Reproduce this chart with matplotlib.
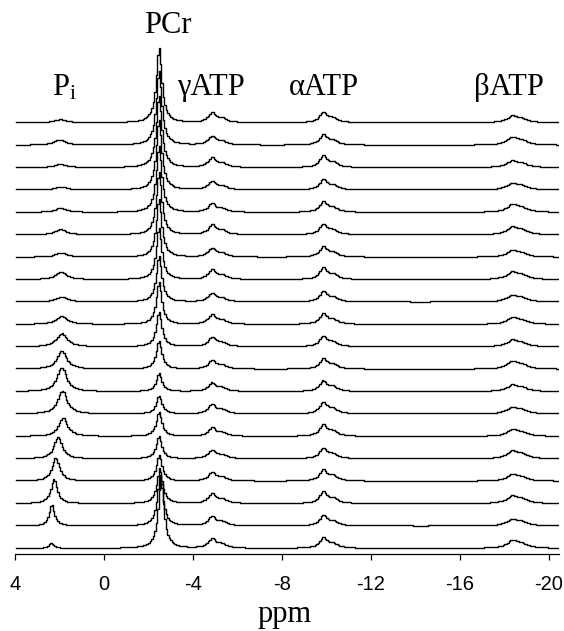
from __future__ import annotations

import matplotlib
import matplotlib.pyplot as plt
import numpy as np

matplotlib.use("Agg")

plt.rcParams["mathtext.fontset"] = "custom"
plt.rcParams["mathtext.rm"] = "Liberation Serif"
plt.rcParams["mathtext.it"] = "Liberation Serif"

# peak table, top spectrum first (a.u.)
pcr_shift = [-2.47, -2.47, -2.47, -2.47, -2.47, -2.47, -2.47, -2.47, -2.47, -2.47,
             -2.47, -2.47, -2.47, -2.47, -2.47, -2.47, -2.48, -2.50, -2.52, -2.56]
pcr_height = [75, 74, 72, 70, 67, 63, 58, 52, 46, 42, 35, 28, 18, 18, 24, 22, 26, 35, 52, 72]
pi_shift = [1.98, 2.0, 1.95, 1.95, 1.95, 1.95, 1.93, 1.93, 1.9, 1.9,
            1.9, 1.9, 1.9, 1.88, 1.84, 2.07, 2.17, 2.25, 2.35, 2.38]
pi_height = [3, 5, 3, 3, 4, 5, 4, 7, 5, 8, 13, 18, 24, 23, 18, 21, 23, 24, 21, 5]
pi_width = [0.3, 0.3, 0.3, 0.3, 0.3, 0.3, 0.3, 0.3, 0.3, 0.3,
            0.28, 0.26, 0.25, 0.25, 0.24, 0.22, 0.2, 0.17, 0.14, 0.12]
gamma_height = [9, 8, 9, 8, 8, 9, 8, 9, 8, 9, 9, 8, 8, 9, 8, 8, 8, 9, 9, 9]
alpha_height = [10, 10, 11, 10, 10, 10, 10, 11, 10, 10, 10, 10, 10, 11, 11, 10, 11, 11, 10, 10]
beta_height = [6, 7, 6, 6, 7, 7, 6, 7, 6, 6, 6, 7, 6, 6, 6, 7, 6, 7, 6, 7]

GAMMA_SHIFT = -4.85
ALPHA_SHIFT = -9.85
BETA_SHIFT = -18.35

xticks = [4, 0, -4, -8, -12, -16, -20]


def lorentz(ppm, centre, height, hw):
    return height / (1.0 + ((ppm - centre) / hw) ** 2)


ppm = np.arange(3.95, -20.46, -0.065)

fig = plt.figure(figsize=(5.64, 6.31), dpi=100)
ax = fig.add_axes([15 / 564, 1 - 554 / 631, 544 / 564, 554 / 631])

n = len(pcr_height)
spacing = 22.4
for i in range(n):
    base = 6 + (n - 1 - i) * spacing
    y = (
        lorentz(ppm, pcr_shift[i], pcr_height[i], 0.15)
        + lorentz(ppm, pi_shift[i], pi_height[i], pi_width[i])
        + lorentz(ppm, GAMMA_SHIFT, gamma_height[i], 0.2)
        + lorentz(ppm, GAMMA_SHIFT - 0.45, gamma_height[i] * 0.4, 0.25)
        + lorentz(ppm, ALPHA_SHIFT, alpha_height[i], 0.2)
        + lorentz(ppm, ALPHA_SHIFT - 0.45, alpha_height[i] * 0.4, 0.25)
        + lorentz(ppm, BETA_SHIFT, beta_height[i], 0.3)
        + lorentz(ppm, BETA_SHIFT - 0.45, beta_height[i] * 0.5, 0.3)
    )
    ax.plot(ppm, base + y, color="black", linewidth=1.0, drawstyle="steps-mid")

ax.set_xlim(4, -20.45)
ax.set_ylim(0, 554)
ax.set_yticks([])
for side in ("left", "right", "top"):
    ax.spines[side].set_visible(False)
ax.spines["bottom"].set_linewidth(0.9)
ax.spines["bottom"].set_bounds(4, -20.45)
ax.set_xticks(xticks)
ax.set_xticklabels([str(t) for t in xticks], fontfamily="Liberation Sans", fontsize=14.5)
ax.tick_params(axis="x", direction="out", length=4, width=0.9, pad=11)
ax.patch.set_alpha(0)

serif = dict(fontfamily="Liberation Serif", fontsize=22, color="black", va="baseline")
ax.text(-2.85, 521, "PCr", ha="center", **serif)
ax.text(2.34, 459, r"P$_{\mathrm{i}}$", ha="left", **serif)
ax.text(-3.28, 459, "γATP", ha="left", **serif)
ax.text(-8.31, 459, "αATP", ha="left", **serif)
ax.text(-16.63, 459, "βATP", ha="left", **serif)

fig.text(285 / 564, 9 / 631, "ppm", ha="center", va="baseline",
         fontfamily="Liberation Serif", fontsize=22)

fig.savefig("out.png", dpi=100)
